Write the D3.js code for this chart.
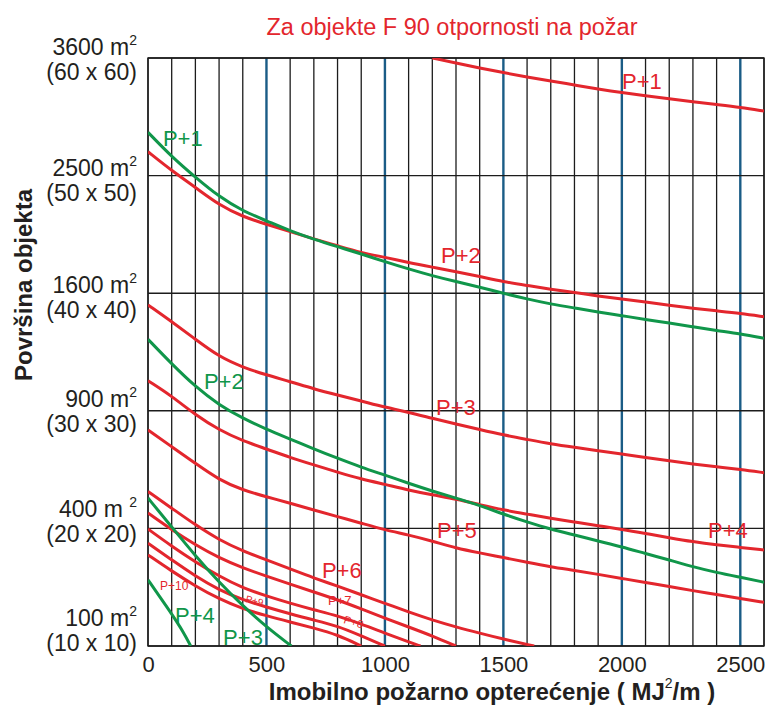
<!DOCTYPE html>
<html>
<head>
<meta charset="utf-8">
<script src="https://cdn.jsdelivr.net/npm/d3@7"></script>
<style>
  body { margin: 0; background: #fff; }
  svg { display: block; }
  text { font-family: "Liberation Sans", Arial, sans-serif; }
</style>
</head>
<body>
<div id="chart"></div>
<script>
// ---- data: [opterećenje MJ/m2, površina m2] ----
const areaLevels = [100, 400, 900, 1600, 2500, 3600];
const areaSides = ["(10 x 10)", "(20 x 20)", "(30 x 30)", "(40 x 40)", "(50 x 50)", "(60 x 60)"];
const xTicks = [0, 500, 1000, 1500, 2000, 2500];

const redP1 = [[1200,3600],[1300,3549],[1400,3499],[1500,3452],[1600,3409],[1700,3369],[1800,3330],[1900,3291],[2000,3255],[2100,3225],[2200,3196],[2300,3168],[2400,3141],[2500,3115],[2600,3079]];
const redP2 = [[0,2707],[100,2542],[200,2401],[300,2256],[400,2163],[500,2103],[600,2046],[700,1990],[800,1939],[900,1887],[1000,1854],[1100,1815],[1200,1782],[1300,1750],[1400,1716],[1500,1679],[1600,1653],[1700,1627],[1800,1605],[1900,1581],[2000,1561],[2100,1541],[2200,1519],[2300,1499],[2400,1482],[2500,1466],[2600,1444]];
const redP3 = [[0,1521],[100,1412],[200,1302],[300,1197],[400,1136],[500,1092],[600,1055],[700,1015],[800,982],[900,951],[1000,918],[1100,892],[1200,862],[1300,834],[1400,807],[1500,781],[1600,760],[1700,739],[1800,723],[1900,708],[2000,693],[2100,678],[2200,663],[2300,649],[2400,637],[2500,626],[2600,612]];
const redP4 = [[0,1060],[100,977],[200,879],[300,805],[400,753],[500,716],[600,677],[700,645],[800,614],[900,586],[1000,564],[1100,541],[1200,522],[1300,506],[1400,485],[1500,465],[1600,450],[1700,435],[1800,422],[1900,409],[2000,397],[2100,383],[2200,369],[2300,356],[2400,346],[2500,338],[2600,330]];
const redP5 = [[0,805],[100,726],[200,652],[300,582],[400,541],[500,515],[600,490],[700,465],[800,441],[900,418],[1000,395],[1100,378],[1200,358],[1300,336],[1400,321],[1500,307],[1600,293],[1700,280],[1800,270],[1900,259],[2000,248],[2100,237],[2200,227],[2300,216],[2400,207],[2500,197],[2600,188]];
const redP6 = [[0,535],[100,472],[200,412],[300,362],[400,327],[500,300],[600,274],[700,249],[800,228],[900,206],[1000,186],[1100,166],[1200,149],[1300,135],[1400,123],[1500,112],[1630,100]];
const redP7 = [[0,454],[100,395],[200,346],[300,306],[400,277],[500,254],[600,233],[700,213],[800,194],[900,173],[1000,153],[1100,135],[1200,118],[1300,100]];
const redP8 = [[0,398],[100,342],[200,294],[300,254],[400,223],[500,203],[600,186],[700,171],[800,158],[900,141],[1000,123],[1100,107],[1150,100]];
const redP9 = [[0,351],[100,300],[200,254],[300,218],[400,194],[500,177],[600,162],[700,149],[800,137],[900,118],[1000,100]];
const redP10 = [[0,315],[100,268],[200,228],[300,196],[400,173],[500,158],[600,145],[700,133],[800,120],[900,100]];

const greenP1 = [[0,2882],[100,2663],[200,2486],[300,2324],[400,2208],[500,2131],[600,2051],[700,1988],[800,1932],[900,1878],[1000,1822],[1100,1769],[1200,1721],[1300,1680],[1400,1642],[1500,1599],[1600,1561],[1700,1527],[1800,1501],[1900,1475],[2000,1451],[2100,1426],[2200,1404],[2300,1380],[2400,1356],[2500,1335],[2600,1308]];
const greenP2 = [[0,1302],[100,1155],[200,1027],[300,930],[400,862],[500,808],[600,762],[700,716],[800,674],[900,635],[1000,602],[1100,568],[1200,537],[1300,510],[1400,482],[1500,450],[1600,422],[1700,397],[1800,378],[1900,358],[2000,340],[2100,319],[2200,300],[2300,280],[2400,264],[2500,251],[2600,238]];
const greenP3 = [[0,510],[100,405],[200,312],[300,238],[400,180],[500,135],[605,100]];
const greenP4 = [[0,244],[50,201],[100,162],[150,125],[180,100]];

const RED = "#e3262d";
const GREEN = "#10964a";

// curve labels: text, anchor in data units, colour, font size, rotation
const curveLabels = [
  { t: "P+1", x: 63, a: 2758, c: GREEN, s: 22, r: 0 },
  { t: "P+1", x: 2001, a: 3291, c: RED, s: 22, r: 0 },
  { t: "P+2", x: 1237, a: 1812, c: RED, s: 22, r: 0 },
  { t: "P+2", x: 236, a: 1015, c: GREEN, s: 22, r: 0 },
  { t: "P+3", x: 1216, a: 879, c: RED, s: 22, r: 0 },
  { t: "P+5", x: 1220, a: 368, c: RED, s: 22, r: 0 },
  { t: "P+4", x: 2364, a: 368, c: RED, s: 22, r: 0 },
  { t: "P+6", x: 734, a: 249, c: RED, s: 22, r: 0 },
  { t: "P+4", x: 114, a: 143, c: GREEN, s: 22, r: 0 },
  { t: "P+3", x: 317, a: 102, c: GREEN, s: 22, r: 0 },
  { t: "P+10", x: 51, a: 218, c: RED, s: 12, r: 0 },
  { t: "P+9", x: 409, a: 189, c: RED, s: 10, r: 14 },
  { t: "P+7", x: 760, a: 182, c: RED, s: 13, r: 0 },
  { t: "P+8", x: 823, a: 143, c: RED, s: 11, r: 16 }
];

// ---- layout ----
const W = 768, H = 707;
const margin = { top: 58, right: 4, bottom: 61, left: 148 };
const width = W - margin.left - margin.right;
const height = H - margin.top - margin.bottom;

const svg = d3.select("#chart").append("svg")
  .attr("width", W)
  .attr("height", H);

const g = svg.append("g").attr("transform", `translate(${margin.left},${margin.top})`);

const x = d3.scaleLinear().domain([0, 2600]).range([0, width]);
// axis is linear in the side length, so square-root in area
const y = d3.scaleSqrt().domain([100, 3600]).range([height, 0]);

// vertical grid, every 100, darker blue every 500
const xGrid = d3.range(0, 2601, 100);
g.append("g").selectAll("line")
  .data(xGrid.filter(v => v % 500 !== 0 || v === 0))
  .join("line")
  .attr("x1", d => x(d)).attr("x2", d => x(d))
  .attr("y1", 0).attr("y2", height)
  .attr("stroke", "#1c1c1c")
  .attr("stroke-width", 1.3);

g.append("g").selectAll("line")
  .data(xGrid.filter(v => v % 500 === 0 && v !== 0))
  .join("line")
  .attr("x1", d => x(d)).attr("x2", d => x(d))
  .attr("y1", 0).attr("y2", height)
  .attr("stroke", "#1a5c86")
  .attr("stroke-width", 2.4);

// horizontal grid at the area levels
g.append("g").selectAll("line")
  .data(areaLevels)
  .join("line")
  .attr("x1", 0).attr("x2", width)
  .attr("y1", d => y(d)).attr("y2", d => y(d))
  .attr("stroke", "#1c1c1c")
  .attr("stroke-width", 1.4);

g.append("rect")
  .attr("width", width).attr("height", height)
  .attr("fill", "none")
  .attr("stroke", "#1c1c1c")
  .attr("stroke-width", 1.4);

// curves
g.append("clipPath").attr("id", "plotclip")
  .append("rect").attr("width", width).attr("height", height);

const line = d3.line()
  .x(d => x(d[0]))
  .y(d => y(d[1]))
  .curve(d3.curveBasis);

const redSeries = [redP1, redP2, redP3, redP4, redP5, redP6, redP7, redP8, redP9, redP10];
const greenSeries = [greenP1, greenP2, greenP3, greenP4];

const curves = g.append("g").attr("clip-path", "url(#plotclip)");
curves.selectAll("path.red")
  .data(redSeries)
  .join("path")
  .attr("class", "red")
  .attr("d", line)
  .attr("fill", "none")
  .attr("stroke", RED)
  .attr("stroke-width", 3);

curves.selectAll("path.green")
  .data(greenSeries)
  .join("path")
  .attr("class", "green")
  .attr("d", line)
  .attr("fill", "none")
  .attr("stroke", GREEN)
  .attr("stroke-width", 3);

// curve labels
g.append("g").selectAll("text")
  .data(curveLabels)
  .join("text")
  .attr("transform", d => `translate(${x(d.x)},${y(d.a)}) rotate(${d.r})`)
  .attr("fill", d => d.c)
  .attr("font-size", d => d.s)
  .text(d => d.t);

// x axis tick labels
const xAxis = g.append("g")
  .attr("transform", `translate(0,${height})`)
  .call(d3.axisBottom(x).tickValues(xTicks).tickSize(0).tickPadding(10).tickFormat(d3.format("d")));
xAxis.select(".domain").remove();
xAxis.selectAll("text")
  .attr("font-size", 22)
  .attr("font-family", "Liberation Sans, Arial, sans-serif")
  .attr("fill", "#231f20");

// y labels: area in m2 and its side
const shiftUp = [-20, -11, -4, 0, 0, -3];
const yLab = g.append("g");
areaLevels.forEach((a, i) => {
  const t = yLab.append("text")
    .attr("x", -11)
    .attr("y", y(a) + shiftUp[i])
    .attr("text-anchor", "end")
    .attr("font-size", 23)
    .attr("fill", "#231f20");
  t.append("tspan").text(a + (a === 400 ? " m " : " m"));
  t.append("tspan").attr("dy", -10).attr("font-size", 14).text("2");

  yLab.append("text")
    .attr("x", -11)
    .attr("y", y(a) + shiftUp[i] + 25)
    .attr("text-anchor", "end")
    .attr("font-size", 23)
    .attr("fill", "#231f20")
    .text(areaSides[i]);
});

// title
svg.append("text")
  .attr("x", 452)
  .attr("y", 35)
  .attr("text-anchor", "middle")
  .attr("font-size", 23.5)
  .attr("fill", RED)
  .text("Za objekte F 90 otpornosti na požar");

// axis titles
const xt = svg.append("text")
  .attr("x", 492)
  .attr("y", 700)
  .attr("text-anchor", "middle")
  .attr("font-size", 24)
  .attr("font-weight", "bold")
  .attr("fill", "#231f20");
xt.append("tspan").text("Imobilno požarno opterećenje ( MJ");
xt.append("tspan").attr("dy", -12).attr("font-size", 14).attr("font-weight", "normal").text("2");
xt.append("tspan").attr("dy", 12).text("/m )");

svg.append("text")
  .attr("transform", "translate(32,285) rotate(-90)")
  .attr("text-anchor", "middle")
  .attr("font-size", 24)
  .attr("font-weight", "bold")
  .attr("fill", "#231f20")
  .text("Površina objekta");
</script>
</body>
</html>
